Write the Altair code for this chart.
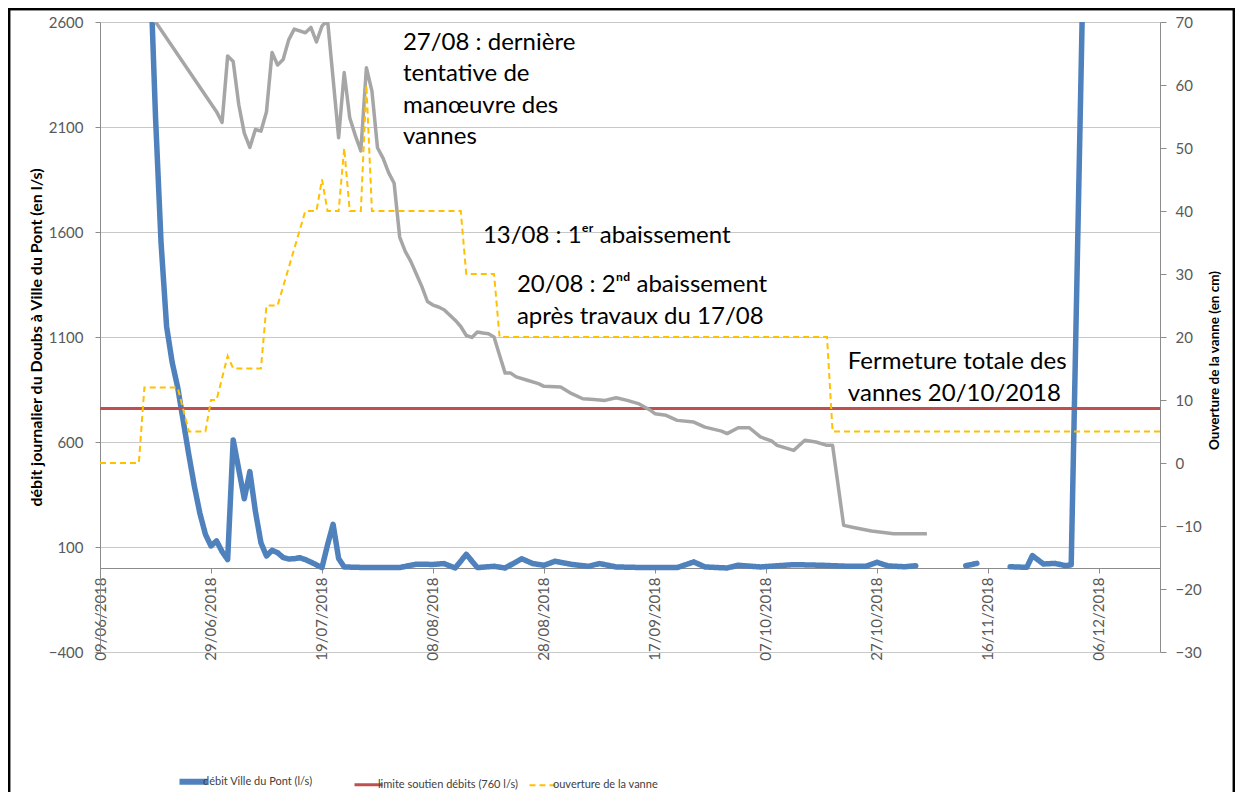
import altair as alt
import pandas as pd

# ---------------- données ----------------
# débit Ville du Pont (l/s) : 3 tronçons (lacunes en novembre)
debit_dates = [
    "2018-06-18", "2018-06-19", "2018-06-20", "2018-06-21", "2018-06-22", "2018-06-23",
    "2018-06-24", "2018-06-25", "2018-06-26", "2018-06-27", "2018-06-28", "2018-06-29",
    "2018-06-30", "2018-07-01", "2018-07-02", "2018-07-03", "2018-07-04", "2018-07-05",
    "2018-07-06", "2018-07-07", "2018-07-08", "2018-07-09", "2018-07-10", "2018-07-11",
    "2018-07-12", "2018-07-13", "2018-07-14", "2018-07-15", "2018-07-16", "2018-07-17",
    "2018-07-18", "2018-07-19", "2018-07-20", "2018-07-21", "2018-07-22", "2018-07-23",
    "2018-07-27", "2018-08-02", "2018-08-05", "2018-08-08", "2018-08-10", "2018-08-12",
    "2018-08-14", "2018-08-16", "2018-08-19", "2018-08-21", "2018-08-24", "2018-08-26",
    "2018-08-28", "2018-08-30", "2018-09-02", "2018-09-05", "2018-09-07", "2018-09-10",
    "2018-09-15", "2018-09-21", "2018-09-24", "2018-09-26", "2018-09-30", "2018-10-02",
    "2018-10-06", "2018-10-12", "2018-10-17", "2018-10-22", "2018-10-25", "2018-10-27",
    "2018-10-29", "2018-11-01", "2018-11-03",
    "2018-11-12", "2018-11-13", "2018-11-14",
    "2018-11-20", "2018-11-23", "2018-11-24", "2018-11-26", "2018-11-28", "2018-11-30",
    "2018-12-01", "2018-12-02", "2018-12-03",
]
debit_values = [
    2900, 2150, 1550, 1150, 980, 860,
    700, 540, 390, 260, 160, 105,
    129, 78, 40, 610, 470, 330,
    459, 270, 120, 57, 84, 73,
    50, 43, 44, 49, 40, 28,
    15, 2, 110, 208, 45, 5,
    2, 2, 18, 17, 21, 0,
    65, 2, 8, 0, 44, 21,
    13, 32, 17, 8, 21, 5,
    2, 2, 29, 5, 0, 13,
    5, 16, 13, 8, 8, 27,
    10, 6, 11,
    11, 16, 22,
    6, 3, 59, 19, 22, 11,
    15, 1330, 2650,
]
debit_troncons = [1] * 69 + [2] * 3 + [3] * 9

# débit (courbe grise, sans légende)
gris_dates = [
    "2018-06-18", "2018-06-30", "2018-07-01", "2018-07-02", "2018-07-03", "2018-07-04",
    "2018-07-05", "2018-07-06", "2018-07-07", "2018-07-08", "2018-07-09", "2018-07-10",
    "2018-07-11", "2018-07-12", "2018-07-13", "2018-07-14", "2018-07-16", "2018-07-17",
    "2018-07-18", "2018-07-19", "2018-07-20", "2018-07-21", "2018-07-22", "2018-07-23",
    "2018-07-24", "2018-07-25", "2018-07-26", "2018-07-27", "2018-07-28", "2018-07-29",
    "2018-07-30", "2018-07-31", "2018-08-01", "2018-08-02", "2018-08-03", "2018-08-04",
    "2018-08-05", "2018-08-06", "2018-08-07", "2018-08-08", "2018-08-09", "2018-08-10",
    "2018-08-11", "2018-08-12", "2018-08-13", "2018-08-14", "2018-08-15", "2018-08-16",
    "2018-08-17", "2018-08-18", "2018-08-19", "2018-08-20", "2018-08-21", "2018-08-22",
    "2018-08-23", "2018-08-25", "2018-08-27", "2018-08-28", "2018-08-31", "2018-09-02",
    "2018-09-04", "2018-09-06", "2018-09-08", "2018-09-10", "2018-09-12", "2018-09-14",
    "2018-09-16", "2018-09-17", "2018-09-19", "2018-09-21", "2018-09-24", "2018-09-26",
    "2018-09-29", "2018-09-30", "2018-10-02", "2018-10-04", "2018-10-06", "2018-10-08",
    "2018-10-09", "2018-10-12", "2018-10-14", "2018-10-16", "2018-10-18", "2018-10-19",
    "2018-10-21", "2018-10-23", "2018-10-26", "2018-10-30", "2018-11-05",
]
gris_values = [
    2640, 2173, 2122, 2438, 2412, 2207,
    2071, 2003, 2088, 2080, 2173, 2455,
    2395, 2421, 2515, 2566, 2549, 2574,
    2505, 2580, 2610, 2330, 2049, 2359,
    2144, 2060, 1986, 2382, 2271, 2001,
    1952, 1883, 1832, 1576, 1508, 1460,
    1400, 1340, 1269, 1252, 1243, 1230,
    1205, 1180, 1150, 1107, 1098, 1124,
    1119, 1115, 1100, 1013, 928, 928,
    910, 894, 878, 865, 862, 830,
    806, 802, 798, 811, 798, 783,
    754, 735, 727, 703, 695, 671,
    652, 640, 668, 668, 624, 605,
    584, 560, 608, 600, 584, 584,
    203, 192, 176, 163, 163,
]

# ouverture de la vanne (cm, axe de droite)
vanne_dates = [
    "2018-06-09", "2018-06-16", "2018-06-17", "2018-06-23", "2018-06-25", "2018-06-28",
    "2018-06-29", "2018-06-30", "2018-07-02", "2018-07-03", "2018-07-08", "2018-07-09",
    "2018-07-11", "2018-07-16", "2018-07-18", "2018-07-19", "2018-07-20", "2018-07-22",
    "2018-07-23", "2018-07-24", "2018-07-26", "2018-07-27", "2018-07-28", "2018-08-13",
    "2018-08-14", "2018-08-19", "2018-08-20", "2018-10-18", "2018-10-19", "2018-12-17",
]
vanne_values = [
    0, 0, 12, 12, 5, 5,
    10, 10, 17, 15, 15, 25,
    25, 40, 40, 45, 40, 40,
    50, 40, 40, 60, 40, 40,
    30, 30, 20, 20, 5, 5,
]

# limite soutien débits
limite_dates = ["2018-06-09", "2018-12-17"]
limite_values = [760, 760]

# annotations
annot_dates = [
    "2018-08-02T14:00", "2018-08-02T14:00", "2018-08-02T14:00", "2018-08-02T14:00",
    "2018-08-17T00:00", "2018-08-23T03:00", "2018-08-23T03:00",
    "2018-10-21T18:00", "2018-10-21T18:00",
]
annot_values = [2500, 2352, 2200, 2052, 1581, 1348, 1195, 981, 829]
annot_texts = [
    "27/08 : dernière", "tentative de", "manœuvre des", "vannes",
    "13/08 : 1ᵉʳ abaissement",
    "20/08 : 2ⁿᵈ abaissement", "après travaux du 17/08",
    "Fermeture totale des", "vannes 20/10/2018",
]

x_domain = ["2018-06-09", "2018-12-17"]
x_ticks = ["2018-06-09", "2018-06-29", "2018-07-19", "2018-08-08", "2018-08-28",
           "2018-09-17", "2018-10-07", "2018-10-27", "2018-11-16", "2018-12-06"]
left_ticks = [-400, 100, 600, 1100, 1600, 2100, 2600]
right_ticks = [-30, -20, -10, 0, 10, 20, 30, 40, 50, 60, 70]

serie_names = ["débit Ville du Pont (l/s)", "limite soutien débits (760 l/s)", "ouverture de la vanne"]
serie_colors = ["#4f81bd", "#c0504d", "#ffc000"]
serie_dashes = [[1, 0], [1, 0], [6, 4]]

# ---------------- tables ----------------
def local(d):
    return d if "T" in d else d + "T00:00"

def dt(d):
    return alt.DateTime(year=int(d[:4]), month=int(d[5:7]), date=int(d[8:10]))

df_debit = pd.DataFrame({"date": [local(d) for d in debit_dates], "v": debit_values,
                         "troncon": debit_troncons, "serie": serie_names[0]})
df_gris = pd.DataFrame({"date": [local(d) for d in gris_dates], "v": gris_values})
df_limite = pd.DataFrame({"date": [local(d) for d in limite_dates], "v": limite_values,
                          "serie": serie_names[1]})
df_vanne = pd.DataFrame({"date": [local(d) for d in vanne_dates], "o": vanne_values,
                         "serie": serie_names[2]})
df_annot = pd.DataFrame({"date": [local(d) for d in annot_dates], "v": annot_values,
                         "t": annot_texts})

FONT = "Lato"
LABEL_COLOR = "#595959"
AXIS_COLOR = "#8c8c8c"

x_enc = alt.X(
    "date:T",
    scale=alt.Scale(domain=[dt(x_domain[0]), dt(x_domain[1])]),
    axis=alt.Axis(values=[dt(d) for d in x_ticks], format="%d/%m/%Y", labelAngle=270,
                  labelFlush=False, labelOverlap=False, offset=-84, grid=False,
                  domainColor=AXIS_COLOR, tickColor=AXIS_COLOR, tickSize=5,
                  labelFont=FONT, labelFontSize=15, labelColor=LABEL_COLOR,
                  labelPadding=4, title=None),
)
y_left = alt.Y(
    "v:Q",
    scale=alt.Scale(domain=[-400, 2600], nice=False, zero=False),
    axis=alt.Axis(orient="left", values=left_ticks, format="d",
                  title="débit journalier du Doubs à Ville du Pont (en l/s)",
                  titleFont=FONT, titleFontSize=16, titleFontWeight="bold", titleColor="black",
                  titlePadding=4, labelFont=FONT, labelFontSize=15, labelColor=LABEL_COLOR,
                  labelPadding=12, tickSize=5, tickColor=AXIS_COLOR, domainColor=AXIS_COLOR,
                  gridColor="#c8c8c8"),
)
y_right = alt.Y(
    "o:Q",
    scale=alt.Scale(domain=[-30, 70], nice=False, zero=False),
    axis=alt.Axis(orient="right", values=right_ticks, grid=False, title="Ouverture de la vanne (en cm)",
                  titleAngle=270, titleY=338, titleFont=FONT, titleFontSize=13.5, titleFontWeight="bold",
                  titleColor="black", titlePadding=20, labelFont=FONT, labelFontSize=15,
                  labelColor=LABEL_COLOR, labelPadding=9, tickSize=6, tickColor=AXIS_COLOR,
                  domainColor=AXIS_COLOR),
)

width_expr = ("datum.value === '%s' ? 6 : (datum.value === '%s' ? 3 : 2)"
              % (serie_names[0], serie_names[1]))
legend = alt.Legend(title=None, orient="none", legendX=88, legendY=754, direction="horizontal",
                    columns=3, gridAlign="all", columnPadding=5,
                    symbolType="stroke", symbolSize=784, labelOffset=4,
                    labelFont=FONT, labelFontSize=11, labelColor="#404040", labelLimit=400,
                    symbolStrokeWidth=alt.ExprRef(expr=width_expr))
color_enc = alt.Color("serie:N", scale=alt.Scale(domain=serie_names, range=serie_colors), legend=legend)
dash_enc = alt.StrokeDash("serie:N", scale=alt.Scale(domain=serie_names, range=serie_dashes), legend=legend)

blue = alt.Chart(df_debit).mark_line(strokeWidth=5.5, clip=True, strokeJoin="round", strokeCap="round").encode(
    x=x_enc, y=y_left, color=color_enc, strokeDash=dash_enc, detail="troncon:N")
red = alt.Chart(df_limite).mark_line(strokeWidth=3, clip=True).encode(
    x=x_enc, y=y_left, color=color_enc, strokeDash=dash_enc)
gray = alt.Chart(df_gris).mark_line(strokeWidth=3.5, color="#a6a6a6", clip=True, strokeJoin="round").encode(
    x=x_enc, y=y_left)
text = alt.Chart(df_annot).mark_text(align="left", baseline="middle", font=FONT, fontSize=24,
                                     color="black").encode(x=x_enc, y=y_left, text="t:N")
border = alt.Chart(df_limite).mark_rect(filled=False, stroke="black", strokeWidth=2.5).encode(
    x=alt.value(-91), x2=alt.value(1134), y=alt.value(-13), y2=alt.value(820))

left = alt.layer(blue, red, gray, text, border)
yellow = alt.Chart(df_vanne).mark_line(strokeWidth=2, clip=True).encode(
    x=x_enc, y=y_right, color=color_enc, strokeDash=dash_enc)

chart = alt.layer(left, yellow).resolve_scale(y="independent").properties(
    width=1060, height=630,
    autosize=alt.AutoSizeParams(type="none"),
    padding={"left": 92, "top": 14, "right": 75, "bottom": 140},
).configure_view(strokeWidth=0)

chart.save("out.html", embed_options={"renderer": "svg", "actions": False})
